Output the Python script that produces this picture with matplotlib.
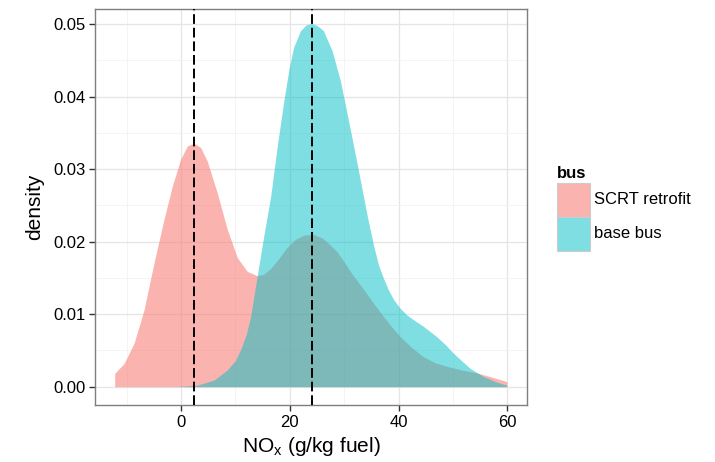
import matplotlib
matplotlib.use("Agg")
import matplotlib.pyplot as plt
from matplotlib.patches import Rectangle
from matplotlib.ticker import MultipleLocator

plt.rcParams['font.family'] = ['Liberation Sans', 'DejaVu Sans']

# SCRT retrofit density
scrt_x = [-12.2, -12.17, -10.46, -8.62, -6.79, -4.95, -3.12, -1.58, -0.06, 1.17, 2.39,
          3.61, 4.84, 6.68, 8.51, 10.35, 12.18, 14.0, 15.2, 16.5, 17.8, 19.5, 21.0,
          22.6, 24.4, 26.0, 27.5, 28.7, 29.9, 31.5, 33.6, 35.4, 37.2, 38.8, 40.3,
          42.4, 44.6, 46.7, 48.9, 51.6, 54.4, 57.2, 59.9]
scrt_y = [0.0, 0.00185, 0.0032, 0.0060, 0.0106, 0.0171, 0.0231, 0.0277, 0.0314, 0.0332,
          0.0336, 0.0330, 0.0311, 0.0267, 0.0217, 0.0178, 0.0159, 0.0153, 0.0155,
          0.0163, 0.0175, 0.0192, 0.0203, 0.0209, 0.0210, 0.0205, 0.0195, 0.0186,
          0.0173, 0.0155, 0.0134, 0.0115, 0.0097, 0.0082, 0.0069, 0.0054, 0.0041,
          0.0033, 0.0028, 0.0023, 0.0019, 0.0013, 0.0007]

# base bus density
base_x = [-1.0, 3.0, 6.06, 8.5, 10.0, 10.95, 12.0, 12.8, 14.0, 15.2, 16.5, 17.7, 18.9,
          19.8, 20.7, 21.96, 23.0, 23.98, 25.1, 26.2, 27.8, 29.3, 30.8, 32.4, 34.2,
          35.4, 36.3, 37.2, 38.1, 39.1, 40.3, 41.5, 43.0, 44.6, 45.8, 47.0, 48.6,
          50.1, 51.7, 53.2, 55.6, 57.8, 59.9]
base_y = [0.0, 0.0002, 0.0009, 0.0023, 0.0036, 0.0051, 0.0072, 0.0097, 0.0152,
          0.0207, 0.0263, 0.0332, 0.0394, 0.0436, 0.0468, 0.0491, 0.0499, 0.0501,
          0.0498, 0.0491, 0.0463, 0.0422, 0.0367, 0.0307, 0.0237, 0.0195, 0.0168,
          0.0150, 0.0134, 0.0120, 0.0108, 0.0099, 0.0091, 0.0083, 0.0076, 0.0069,
          0.0058, 0.0046, 0.0035, 0.0025, 0.0014, 0.0007, 0.0002]

means = [2.4, 24.0]
groups = ['SCRT retrofit', 'base bus']
colors = ['#F8766D', '#00BFC4']

fig = plt.figure(figsize=(7.15, 4.62), dpi=100)
ax = fig.add_axes([0.1329, 0.1234, 0.6041, 0.8571])

for xs, ys, c, a in [(scrt_x, scrt_y, colors[0], 0.55), (base_x, base_y, colors[1], 0.5)]:
    ax.fill_between(xs, 0, ys, color=c, alpha=a, linewidth=0, zorder=3)

for m in means:
    ax.axvline(m, color='black', lw=1.4, ls=(0, (5, 2)), zorder=4)

ax.set_xlim(-15.8, 63.6)
ax.set_ylim(-0.00253, 0.0521)
ax.set_xticks([0, 20, 40, 60])
ax.set_yticks([0.0, 0.01, 0.02, 0.03, 0.04, 0.05])
ax.set_yticklabels(['0.00', '0.01', '0.02', '0.03', '0.04', '0.05'])
ax.xaxis.set_minor_locator(MultipleLocator(10))
ax.yaxis.set_minor_locator(MultipleLocator(0.005))
ax.grid(which='major', color='#E5E5E5', lw=0.9, zorder=0)
ax.grid(which='minor', color='#F2F2F2', lw=0.6, zorder=0)
ax.set_axisbelow(True)
for s in ax.spines.values():
    s.set_color('#7F7F7F')
    s.set_linewidth(1.0)
ax.tick_params(which='major', direction='out', length=4, width=1, color='#333333',
               labelsize=12, labelcolor='black', pad=3)
ax.tick_params(which='minor', length=0)

ax.set_xlabel(r'$\mathregular{NO_x}$ (g/kg fuel)', fontsize=15, labelpad=4)
ax.set_ylabel('density', fontsize=15, labelpad=6)

# legend
fig.text(557/715, 1 - 174/462, 'bus', fontsize=12, fontweight='bold', va='center', ha='left')
for i, (g, c) in enumerate(zip(groups, colors)):
    y0 = 1 - (217 + i * 34) / 462
    r = Rectangle((557/715, y0), 33/715, 34/462, transform=fig.transFigure,
                  facecolor=c, alpha=0.55 if i == 0 else 0.5, edgecolor='none')
    fig.patches.append(r)
    r2 = Rectangle((557/715, y0), 33/715, 34/462, transform=fig.transFigure,
                   facecolor='none', edgecolor='#CCCCCC', lw=0.8)
    fig.patches.append(r2)
    fig.text(594/715, y0 + 17/462, g, fontsize=12, va='center', ha='left')

fig.savefig('out.png', dpi=100)
